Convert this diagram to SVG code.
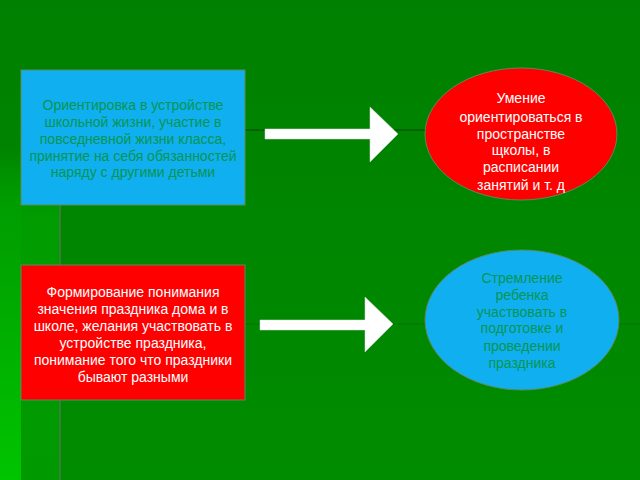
<svg xmlns="http://www.w3.org/2000/svg" width="640" height="480" viewBox="0 0 640 480">
<defs>
<linearGradient id="bg" x1="0" y1="0" x2="0" y2="1">
<stop offset="0" stop-color="#008000"/>
<stop offset="1" stop-color="#008c00"/>
</linearGradient>
<linearGradient id="col" x1="0" y1="0" x2="0" y2="1">
<stop offset="0" stop-color="#009c00" stop-opacity="0"/>
<stop offset="0.2" stop-color="#009c00" stop-opacity="1"/>
<stop offset="1" stop-color="#009a00" stop-opacity="1"/>
</linearGradient>
<linearGradient id="strip" x1="0" y1="0" x2="0" y2="1">
<stop offset="0" stop-color="#00a000" stop-opacity="0"/>
<stop offset="0.3" stop-color="#00a200"/>
<stop offset="1" stop-color="#00c400"/>
</linearGradient>
<style>
.t{font-family:"Liberation Sans",Arial,sans-serif;font-size:14px;text-anchor:middle}
.w{fill:#ffffff}
.g{fill:#079552}
.box{stroke:#5a8a5a;stroke-width:1}
.arrow{fill:#ffffff;stroke:#d8d8d8;stroke-width:0.5}
</style>
</defs>
<rect x="0" y="0" width="640" height="480" fill="url(#bg)"/>
<rect x="0" y="150" width="60" height="330" fill="url(#col)"/>
<rect x="0" y="150" width="21" height="330" fill="url(#strip)"/>
<g id="connectors">
<line x1="60" y1="205" x2="60" y2="480" stroke="#4a7a4a" stroke-width="1.5"/>
<line x1="245" y1="130" x2="430" y2="130" stroke="#006400" stroke-width="2"/>
<line x1="245" y1="324" x2="640" y2="324" stroke="#007a00" stroke-width="1.5"/>
<polygon class="arrow" points="265,129 370,129 370,107 398,134 370,162 370,139 265,139"/>
<polygon class="arrow" points="260,320 365,320 365,297 393,324 365,352 365,330 260,330"/>
</g>
<g id="box1">
<rect class="box" x="21" y="70" width="224" height="135" fill="#10b0f0"/>
<text class="t g" x="133" y="110">Ориентировка в устройстве</text>
<text class="t g" x="133" y="127">школьной жизни, участие в</text>
<text class="t g" x="133" y="144">повседневной жизни класса,</text>
<text class="t g" x="133" y="161">принятие на себя обязанностей</text>
<text class="t g" x="133" y="177">наряду с другими детьми</text>
</g>
<g id="box2">
<rect class="box" x="21" y="265" width="224" height="135" fill="#ff0000"/>
<text class="t w" x="133" y="297">Формирование понимания</text>
<text class="t w" x="133" y="314">значения праздника дома и в</text>
<text class="t w" x="133" y="331">школе, желания участвовать в</text>
<text class="t w" x="133" y="348">устройстве праздника,</text>
<text class="t w" x="133" y="365">понимание того что праздники</text>
<text class="t w" x="133" y="382">бывают разными</text>
</g>
<g id="ellipse1">
<ellipse class="box" cx="521" cy="134" rx="96" ry="66" fill="#ff0000"/>
<text class="t w" x="521" y="103">Умение</text>
<text class="t w" x="521" y="122">ориентироваться в</text>
<text class="t w" x="521" y="139">пространстве</text>
<text class="t w" x="521" y="155">щколы, в</text>
<text class="t w" x="521" y="172">расписании</text>
<text class="t w" x="521" y="190">занятий и т. д</text>
</g>
<g id="ellipse2">
<ellipse class="box" cx="522" cy="320" rx="97" ry="70" fill="#10b0f0"/>
<text class="t g" x="522" y="283">Стремление</text>
<text class="t g" x="522" y="300">ребенка</text>
<text class="t g" x="522" y="317">участвовать в</text>
<text class="t g" x="522" y="333">подготовке и</text>
<text class="t g" x="522" y="351">проведении</text>
<text class="t g" x="522" y="368">праздника</text>
</g>
</svg>
